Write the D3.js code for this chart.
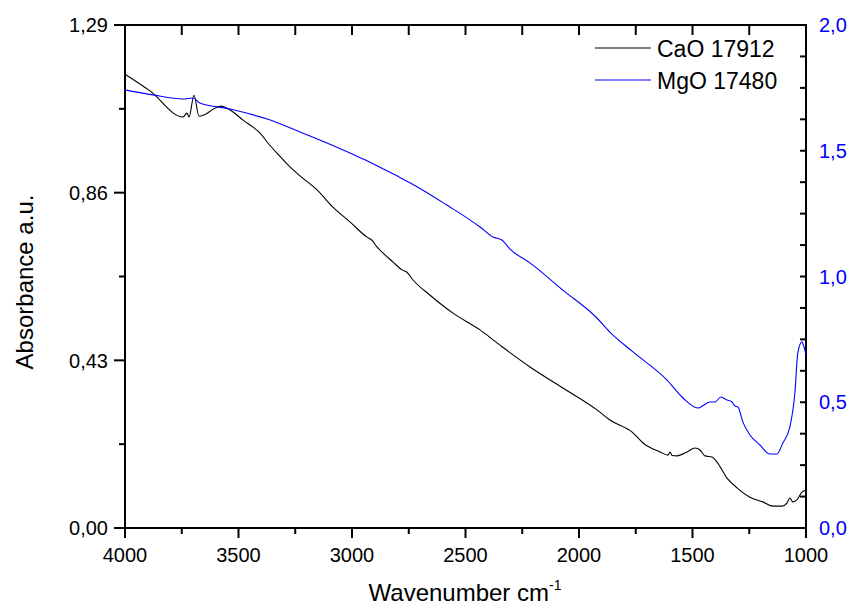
<!DOCTYPE html>
<html><head><meta charset="utf-8">
<script src="https://cdn.jsdelivr.net/npm/d3@7"></script>
<style>
html,body{margin:0;padding:0;background:#fff;}
text{font-family:"Liberation Sans",Arial,sans-serif;}
</style></head>
<body>
<svg id="c" width="848" height="608"></svg>
<script>
// Wavenumber (cm-1) for CaO 17912 (left axis)
const caoWn = [4000,3890,3745,3727,3718,3696,3674,3643,3612,3577,3559,3524,3480,3436,3405,3374,3317,3273,3229,3154,3084,3009,2934,2912,2890,2863,2819,2780,2758,2731,2656,2555,2436,2348,2216,2071,1921,1864,1762,1718,1643,1608,1599,1590,1568,1524,1489,1467,1445,1414,1392,1348,1304,1247,1190,1146,1106,1084,1071,1058,1040,1018,1000];
const caoAbs = [1.164,1.121,1.054,1.064,1.054,1.110,1.056,1.062,1.074,1.082,1.079,1.067,1.046,1.028,1.013,0.990,0.953,0.926,0.903,0.867,0.823,0.785,0.746,0.738,0.721,0.705,0.682,0.662,0.656,0.636,0.597,0.551,0.508,0.469,0.413,0.359,0.303,0.277,0.244,0.218,0.195,0.187,0.195,0.186,0.185,0.195,0.205,0.200,0.185,0.182,0.169,0.128,0.103,0.079,0.067,0.056,0.056,0.064,0.077,0.067,0.072,0.092,0.097];
// Wavenumber (cm-1) for MgO 17480 (right axis)
const mgoWn = [4000,3877,3745,3700,3670,3537,3374,3229,3110,3009,2934,2877,2789,2731,2582,2436,2379,2340,2304,2216,2071,1921,1864,1762,1612,1542,1476,1423,1401,1375,1348,1326,1313,1300,1278,1247,1203,1159,1128,1102,1071,1049,1036,1018,1009,1000];
const mgoAbs = [1.742,1.722,1.706,1.710,1.690,1.666,1.626,1.575,1.531,1.491,1.460,1.434,1.394,1.366,1.284,1.197,1.157,1.145,1.109,1.054,0.946,0.835,0.779,0.700,0.588,0.517,0.477,0.501,0.501,0.521,0.509,0.501,0.485,0.481,0.421,0.370,0.330,0.294,0.294,0.338,0.402,0.537,0.696,0.740,0.720,0.688];

const leftTicks = [0, 0.43, 0.86, 1.29];
const leftTickLabels = ["0,00","0,43","0,86","1,29"];
const rightTicks = [0, 0.5, 1.0, 1.5, 2.0];
const rightTickLabels = ["0,0","0,5","1,0","1,5","2,0"];
const xTicks = [4000,3500,3000,2500,2000,1500,1000];
const seriesNames = ["CaO 17912","MgO 17480"];
const seriesColors = ["#000000","#0000ff"];

const L=125, R=806, T=25, B=528;
const svg = d3.select("#c");
const x = d3.scaleLinear().domain([4000,1000]).range([L,R]);
const yL = d3.scaleLinear().domain([0,1.29]).range([B,T]);
const yR = d3.scaleLinear().domain([0,2.0]).range([B,T]);

const fs = 20;
// frame
svg.append("rect").attr("x",L).attr("y",T).attr("width",R-L).attr("height",B-T)
  .attr("fill","none").attr("stroke","#000").attr("stroke-width",2);

// bottom axis
const minorX = d3.range(4000, 999, -250);
const gB = svg.append("g").attr("transform",`translate(0,${B})`);
gB.selectAll("line").data(minorX).join("line")
  .attr("x1",d=>x(d)).attr("x2",d=>x(d)).attr("y1",0).attr("y2",d=>d%500===0?10:6)
  .attr("stroke","#000").attr("stroke-width",2);
gB.selectAll("text").data(xTicks).join("text")
  .attr("x",d=>x(d)).attr("y",34).attr("text-anchor","middle").attr("font-size",fs)
  .text(d=>d);
// top ticks (inward)
svg.append("g").selectAll("line").data(minorX).join("line")
  .attr("x1",d=>x(d)).attr("x2",d=>x(d)).attr("y1",T).attr("y2",T+10)
  .attr("stroke","#000").attr("stroke-width",2);

// left axis
const minorL = d3.range(0,8).map(i=>i*0.215).filter(v=>v<=1.2901);
const gL = svg.append("g");
gL.selectAll("line").data(minorL).join("line")
  .attr("x1",d=>L-(Math.round(d/0.215)%2===0?11:6)).attr("x2",L)
  .attr("y1",d=>yL(d)).attr("y2",d=>yL(d)).attr("stroke","#000").attr("stroke-width",2);
gL.selectAll("text").data(leftTicks).join("text")
  .attr("x",L-17).attr("y",d=>yL(d)).attr("dy","0.36em").attr("text-anchor","end")
  .attr("font-size",fs).text((d,i)=>leftTickLabels[i]);

// right axis (ticks inward)
const minorR = d3.range(0,17).map(i=>i*0.125);
const gR = svg.append("g");
gR.selectAll("line").data(minorR).join("line")
  .attr("x1",R-6).attr("x2",R).attr("y1",d=>yR(d)).attr("y2",d=>yR(d))
  .attr("stroke","#000").attr("stroke-width",2);
gR.selectAll("text").data(rightTicks).join("text")
  .attr("x",R+13).attr("y",d=>yR(d)).attr("dy","0.36em").attr("text-anchor","start")
  .attr("font-size",fs).attr("fill","#0000ff").text((d,i)=>rightTickLabels[i]);

// lines
const cao = caoWn.map((w,i)=>[w,caoAbs[i]]);
const mgo = mgoWn.map((w,i)=>[w,mgoAbs[i]]);
svg.append("path").datum(cao)
  .attr("d",d3.line().x(d=>x(d[0])).y(d=>yL(d[1])).curve(d3.curveMonotoneX))
  .attr("fill","none").attr("stroke",seriesColors[0]).attr("stroke-width",1.1);
svg.append("path").datum(mgo)
  .attr("d",d3.line().x(d=>x(d[0])).y(d=>yR(d[1])).curve(d3.curveMonotoneX))
  .attr("fill","none").attr("stroke",seriesColors[1]).attr("stroke-width",1.1);

// legend
const lg = svg.append("g");
[48,80].forEach((yy,i)=>{
  lg.append("line").attr("x1",595).attr("x2",651).attr("y1",yy).attr("y2",yy)
    .attr("stroke",seriesColors[i]).attr("stroke-width",1.1);
  lg.append("text").attr("x",657).attr("y",yy+9).attr("font-size",23).text(seriesNames[i]);
});

// axis titles
svg.append("text").attr("transform","translate(33,282) rotate(-90)")
  .attr("text-anchor","middle").attr("font-size",24).text("Absorbance a.u.");
const xt = svg.append("text").attr("x",465).attr("y",601).attr("text-anchor","middle").attr("font-size",24);
xt.append("tspan").text("Wavenumber cm");
xt.append("tspan").attr("font-size",14).attr("dy",-11).text("-1");
</script>
</body></html>
